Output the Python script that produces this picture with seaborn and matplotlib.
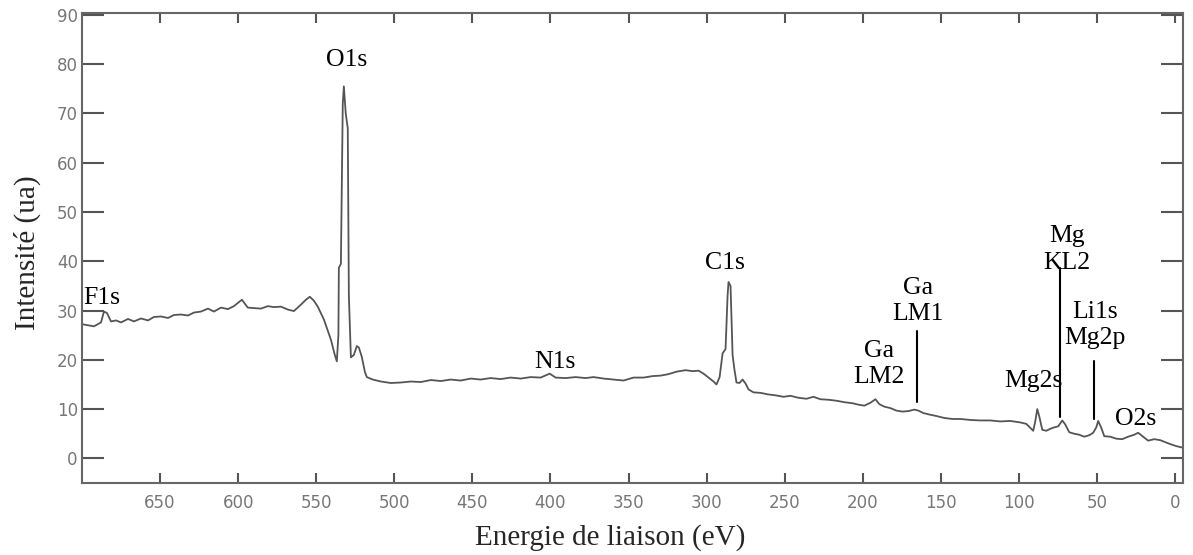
import matplotlib
matplotlib.use("Agg")
import matplotlib.pyplot as plt
import seaborn as sns
import pandas as pd

# XPS survey spectrum (binding energy in eV, intensity in a.u.)
energie = [699.3, 692.3, 687.8, 685.9, 684.0, 681.4, 678.2, 675.0, 670.5, 666.7,
           662.2, 657.7, 653.9, 649.4, 644.9, 641.1, 636.6, 632.1, 628.3, 623.8,
           619.3, 615.5, 611.0, 606.5, 602.7, 597.6, 593.8, 589.9, 585.4, 581.0,
           577.1, 572.6, 568.1, 564.3, 559.8, 556.6, 554.1, 551.5, 549.0, 545.1,
           540.6, 538.1, 536.8, 535.8, 535.5, 534.2, 533.0, 532.3, 531.1, 529.8,
           529.1, 527.8, 525.9, 524.0, 522.7, 520.8, 518.8, 517.6, 513.8, 508.6,
           502.2, 495.8, 489.4, 483.0, 476.6, 470.2, 463.9, 457.5, 451.0, 444.7,
           438.3, 431.9, 425.5, 419.0, 412.7, 406.3, 400.5, 396.7, 390.3, 383.9,
           377.5, 372.4, 366.0, 359.6, 353.2, 346.8, 340.4, 334.6, 329.5, 324.4,
           319.3, 313.5, 309.0, 305.2, 302.0, 298.8, 295.6, 293.7, 291.7, 289.8,
           287.9, 286.6, 286.0, 284.7, 283.4, 282.2, 280.9, 279.0, 277.0, 275.1,
           273.2, 270.0, 265.5, 261.0, 255.9, 250.8, 246.3, 241.2, 236.1, 231.6,
           227.1, 222.0, 216.9, 211.8, 206.7, 202.8, 199.0, 195.1, 191.9, 189.4,
           186.2, 182.3, 178.5, 174.7, 170.8, 167.0, 164.4, 161.2, 157.4, 152.9,
           147.8, 142.7, 137.6, 131.2, 124.8, 118.4, 112.0, 105.6, 99.2, 95.3,
           92.8, 90.9, 89.6, 88.3, 87.0, 85.1, 82.5, 80.0, 77.4, 74.9,
           72.3, 70.4, 67.8, 64.6, 61.4, 58.2, 55.0, 52.5, 50.5, 49.3,
           47.3, 45.4, 41.6, 37.7, 33.9, 30.1, 26.2, 23.7, 20.5, 17.3,
           13.4, 9.6, 6.4, 3.2, -0.6, -4.5]
intensite = [27.2, 26.8, 27.6, 29.8, 29.5, 27.8, 28.0, 27.6, 28.3, 27.8,
             28.4, 28.0, 28.7, 28.8, 28.5, 29.1, 29.2, 29.0, 29.6, 29.8,
             30.4, 29.8, 30.6, 30.3, 30.9, 32.2, 30.6, 30.5, 30.4, 30.9,
             30.7, 30.8, 30.2, 29.9, 31.2, 32.2, 32.8, 32.0, 30.8, 28.2,
             24.1, 21.0, 19.7, 25.0, 38.7, 39.5, 72.0, 75.5, 70.0, 67.0,
             33.0, 20.5, 21.0, 22.8, 22.5, 20.6, 17.5, 16.5, 16.0, 15.6,
             15.3, 15.4, 15.6, 15.5, 15.9, 15.7, 16.0, 15.8, 16.2, 16.0,
             16.3, 16.1, 16.4, 16.2, 16.5, 16.4, 17.2, 16.4, 16.3, 16.5,
             16.3, 16.5, 16.2, 16.0, 15.8, 16.4, 16.4, 16.7, 16.8, 17.1,
             17.6, 17.9, 17.7, 17.8, 17.2, 16.4, 15.6, 15.0, 16.5, 21.3,
             22.2, 33.0, 35.8, 35.0, 21.0, 18.0, 15.4, 15.3, 16.0, 15.2,
             14.0, 13.4, 13.3, 13.0, 12.8, 12.5, 12.7, 12.3, 12.1, 12.5,
             12.0, 11.9, 11.7, 11.4, 11.2, 10.9, 10.7, 11.3, 12.0, 11.0,
             10.5, 10.2, 9.7, 9.5, 9.6, 9.9, 9.7, 9.2, 8.9, 8.6,
             8.2, 8.0, 8.0, 7.8, 7.7, 7.7, 7.5, 7.6, 7.3, 7.0,
             6.2, 5.6, 7.5, 10.0, 8.5, 5.8, 5.6, 6.0, 6.3, 6.5,
             7.7, 6.9, 5.3, 5.0, 4.8, 4.4, 4.7, 5.2, 6.3, 7.6,
             6.2, 4.5, 4.4, 4.0, 3.9, 4.4, 4.8, 5.2, 4.4, 3.6,
             3.9, 3.7, 3.3, 2.9, 2.5, 2.2]

# peak labels: text, energy, intensity
pics = ["O1s", "F1s", "N1s", "C1s", "Ga\nLM1", "Ga\nLM2", "Mg\nKL2", "Li1s\nMg2p", "Mg2s", "O2s"]
pics_x = [530.4, 699.2, 397.3, 288.5, 164.4, 189.6, 69.1, 51.2, 91.0, 25.6]
pics_y = [80.9, 32.6, 19.5, 39.7, 32.0, 19.1, 42.4, 27.0, 15.7, 7.9]

# marker lines: energy, bottom, top
traits_x = [165.3, 73.6, 51.8]
traits_bas = [11.4, 8.5, 7.9]
traits_haut = [25.8, 38.7, 19.7]

df = pd.DataFrame({"energie": energie, "intensite": intensite})

sns.set_style("ticks")
plt.rcParams['font.family'] = ['DejaVu Sans']

fig = plt.figure(figsize=(11.93, 5.55), dpi=100)
ax = fig.add_axes([0.0687, 0.1297, 0.9229, 0.8469])

sns.lineplot(data=df, x="energie", y="intensite", ax=ax, color="#555555", linewidth=1.3)

ax.set_xlim(700, -5)
ax.set_ylim(-5, 90.4)
ax.set_xticks(range(650, -1, -50))
ax.set_yticks(range(0, 91, 10))

ax.tick_params(axis="x", direction="in", length=7, width=1.5, color="#555555",
               labelsize=12, labelcolor="#777777", pad=8, top=True)
ax.tick_params(axis="y", direction="in", length=16, width=1.5, color="#555555",
               labelsize=12, labelcolor="#777777", pad=3, right=True)
for s in ax.spines.values():
    s.set_visible(True)
    s.set_color("#666666")
    s.set_linewidth(1.5)

serif = ["Liberation Serif", "DejaVu Serif"]
ax.set_xlabel("Energie de liaison (eV)", fontsize=21, family=serif)
ax.set_ylabel("Intensité (ua)", fontsize=21, family=serif)
ax.xaxis.set_label_coords(0.48, -0.088)
ax.yaxis.set_label_coords(-0.037, 0.49)

for t, x, y in zip(pics, pics_x, pics_y):
    ha = "left" if t == "F1s" else "center"
    ax.text(x, y, t, ha=ha, va="center", fontsize=18.5, family=serif,
            linespacing=1.25, color="black")

for x, b, h in zip(traits_x, traits_bas, traits_haut):
    ax.plot([x, x], [b, h], color="black", linewidth=1.5)

fig.savefig("out.png", dpi=100)
